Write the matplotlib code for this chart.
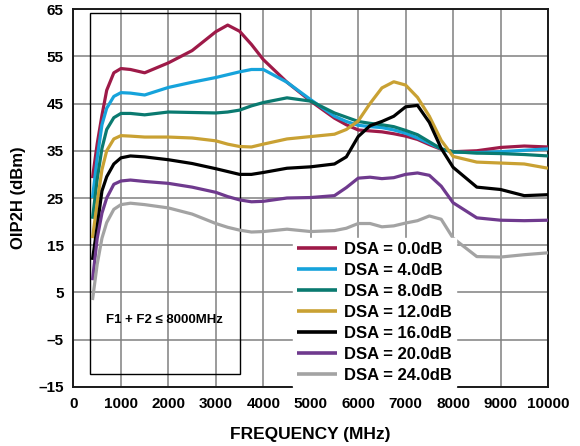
import matplotlib
matplotlib.use("Agg")
import matplotlib.pyplot as plt
from matplotlib.patches import Rectangle

plt.rcParams['font.family'] = ['Liberation Sans', 'DejaVu Sans']
plt.rcParams['font.weight'] = 'bold'

freq_mhz = [400, 500, 600, 700, 850, 1000, 1200, 1500, 2000, 2500, 3000, 3250,
            3500, 3750, 4000, 4500, 5000, 5500, 5750, 6000, 6250, 6500, 6750,
            7000, 7250, 7500, 7750, 8000, 8500, 9000, 9500, 10000]

oip2h_dsa0 = [29.2, 36.5, 42.5, 47.8, 51.5, 52.4, 52.2, 51.5, 53.6, 56.2, 60.2, 61.6,
              60.3, 57.5, 54.3, 49.5, 45.5, 41.9, 40.5, 39.4, 39.2, 39.0, 38.6,
              38.1, 37.4, 36.3, 35.3, 34.8, 35.0, 35.7, 36.0, 35.8]
oip2h_dsa4 = [25.0, 33.5, 40.5, 44.0, 46.5, 47.3, 47.2, 46.8, 48.4, 49.5, 50.5, 51.1,
              51.7, 52.2, 52.2, 49.5, 45.8, 42.3, 41.2, 40.4, 40.1, 39.9, 39.4,
              38.7, 37.7, 36.6, 35.4, 34.7, 34.6, 34.8, 35.1, 35.4]
oip2h_dsa8 = [20.6, 29.0, 35.5, 39.5, 42.0, 42.9, 42.9, 42.6, 43.2, 43.1, 43.0, 43.2,
              43.6, 44.5, 45.2, 46.2, 45.5, 43.0, 42.1, 41.2, 40.8, 40.5, 40.1,
              39.3, 38.4, 36.9, 35.4, 34.8, 34.5, 34.4, 34.2, 33.9]
oip2h_dsa12 = [16.5, 24.0, 31.0, 35.0, 37.5, 38.2, 38.1, 37.9, 37.9, 37.7, 37.1, 36.4,
               35.9, 35.8, 36.4, 37.5, 38.0, 38.5, 39.5, 41.3, 45.0, 48.3, 49.6,
               48.9, 46.3, 42.3, 37.2, 33.8, 32.6, 32.4, 32.2, 31.3]
oip2h_dsa16 = [11.9, 19.0, 26.5, 29.5, 32.2, 33.5, 33.9, 33.7, 33.1, 32.3, 31.2, 30.6,
               30.0, 30.0, 30.4, 31.3, 31.6, 32.2, 33.7, 38.0, 40.3, 41.2, 42.3,
               44.3, 44.6, 41.0, 35.5, 31.5, 27.3, 26.8, 25.5, 25.7]
oip2h_dsa20 = [7.6, 16.5, 21.8, 25.0, 27.9, 28.6, 28.8, 28.5, 28.1, 27.3, 26.2, 25.3,
               24.6, 24.2, 24.3, 25.0, 25.1, 25.5, 27.2, 29.2, 29.4, 29.1, 29.3,
               30.0, 30.3, 29.8, 27.5, 24.0, 20.8, 20.3, 20.2, 20.3]
oip2h_dsa24 = [3.4, 11.0, 16.5, 19.8, 22.6, 23.6, 23.9, 23.6, 22.9, 21.6, 19.6, 18.8,
               18.2, 17.8, 17.9, 18.4, 17.9, 18.1, 18.6, 19.6, 19.6, 18.9, 19.1,
               19.7, 20.2, 21.2, 20.5, 16.5, 12.6, 12.5, 13.0, 13.4]

series_labels = ['DSA = 0.0dB', 'DSA = 4.0dB', 'DSA = 8.0dB', 'DSA = 12.0dB',
                 'DSA = 16.0dB', 'DSA = 20.0dB', 'DSA = 24.0dB']
series_colors = ['#9E1A48', '#16A3DB', '#0A7A70', '#C9A133', '#000000',
                 '#6F3A8E', '#A3A3A3']
series_values = [oip2h_dsa0, oip2h_dsa4, oip2h_dsa8, oip2h_dsa12,
                 oip2h_dsa16, oip2h_dsa20, oip2h_dsa24]

x_ticks = list(range(0, 10001, 1000))
y_ticks = list(range(-15, 66, 10))
y_tick_labels = [('\u2013' + str(-v)) if v < 0 else str(v) for v in y_ticks]

# frequency window where F1 + F2 stays within the limit
box_f_lo, box_f_hi = 350, 3500
box_db_lo, box_db_hi = -12.2, 64.1
box_text = 'F1 + F2 \u2264 8000MHz'

fig = plt.figure(figsize=(5.8, 4.46), dpi=100)
ax = fig.add_axes([0.1267, 0.1323, 0.8181, 0.8475])

for vals, col, lab in zip(series_values, series_colors, series_labels):
    ax.plot(freq_mhz, vals, color=col, lw=2.3, label=lab,
            solid_capstyle='butt', solid_joinstyle='round', zorder=3)

ax.set_xlim(0, 10000)
ax.set_ylim(-15, 65)
ax.set_xticks(x_ticks)
ax.set_xticklabels([str(v) for v in x_ticks])
ax.set_yticks(y_ticks)
ax.set_yticklabels(y_tick_labels)
ax.tick_params(length=0, labelsize=11, pad=7)
for lbl in ax.get_xticklabels() + ax.get_yticklabels():
    lbl.set_fontweight('bold')

ax.grid(True, color='#808080', lw=1.1, zorder=1)
for sp in ax.spines.values():
    sp.set_linewidth(1.4)
    sp.set_color('#1a1a1a')

ax.add_patch(Rectangle((box_f_lo, box_db_lo), box_f_hi - box_f_lo,
                       box_db_hi - box_db_lo, fill=False, ec='black',
                       lw=1.0, zorder=2))
ax.text((box_f_lo + box_f_hi) / 2, -0.8, box_text, ha='center', va='center',
        fontsize=9.5, fontweight='bold', zorder=4)

ax.set_xlabel('FREQUENCY (MHz)', fontsize=12.5, fontweight='bold', labelpad=12)
ax.set_ylabel('OIP2H (dBm)', fontsize=12, fontweight='bold', labelpad=9)

leg = ax.legend(loc='lower left', bbox_to_anchor=(0.462, 0.0),
                frameon=True, fancybox=False, framealpha=1.0,
                edgecolor='white', facecolor='white',
                fontsize=12, handlelength=2.4, handletextpad=0.4,
                labelspacing=0.36, borderpad=0.25, borderaxespad=0.0)
for t in leg.get_texts():
    t.set_fontweight('bold')
for h in leg.get_lines():
    h.set_linewidth(2.6)
leg.set_zorder(5)

fig.savefig('out.png', dpi=100)
